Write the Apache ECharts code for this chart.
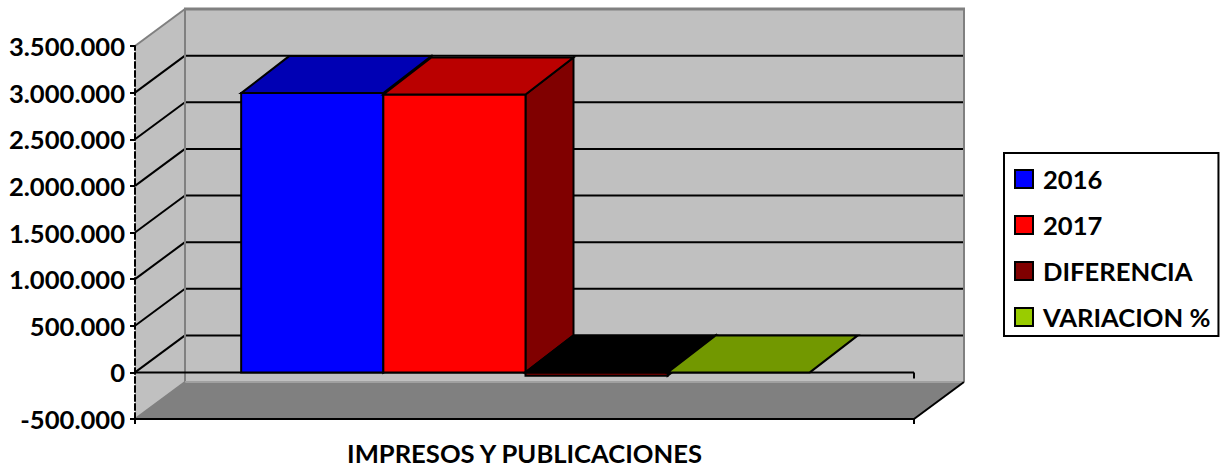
<!DOCTYPE html>
<html>
<head>
<meta charset="utf-8">
<title>Impresos y publicaciones</title>
<style>
  html, body { margin: 0; padding: 0; background: #fff; }
  #chart { width: 1224px; height: 468px; }
</style>
<script src="https://cdn.jsdelivr.net/npm/echarts@6/dist/echarts.min.js"></script>
</head>
<body>
<div id="chart"></div>
<script>
var categories = ['IMPRESOS Y PUBLICACIONES'];
var seriesNames = ['2016', '2017', 'DIFERENCIA', 'VARIACION %'];
var values2016 = [2995000];
var values2017 = [2980000];
var valuesDiferencia = [-35000];
var valuesVariacion = [0];
var yTicks = [-500000, 0, 500000, 1000000, 1500000, 2000000, 2500000, 3000000, 3500000];

(function () {
  var depthX = 50;
  var depthY = -37;
  var barDepthX = 48;
  var barDepthY = -37;
  var barRatio = 0.1825;
  var barOffset = 1;
  var font = 'Lato';
  var fontSize = 25.6;

  var faces = [
    { front: '#0000ff', top: '#0000b4', side: '#000080' },
    { front: '#ff0000', top: '#ba0000', side: '#800000' },
    { front: '#800000', top: '#000000', side: '#400000' },
    { front: '#99cc00', top: '#729800', side: '#4d6600' }
  ];
  var allValues = [values2016, values2017, valuesDiferencia, valuesVariacion];

  function poly(points, fill, stroke, width) {
    return {
      type: 'polygon',
      shape: { points: points },
      style: { fill: fill, stroke: stroke || null, lineWidth: width || 0, lineJoin: 'miter' }
    };
  }

  function line(x1, y1, x2, y2, color, width) {
    return {
      type: 'line',
      shape: { x1: x1, y1: y1, x2: x2, y2: y2 },
      style: { stroke: color, lineWidth: width }
    };
  }

  function renderWalls(params, api) {
    var band = api.size([1, 0])[0];
    var center = api.coord([0, 0])[0];
    var left = center - band / 2;
    var right = center + band / 2;
    var top = api.coord([0, yTicks[yTicks.length - 1]])[1];
    var bottom = api.coord([0, yTicks[0]])[1];
    var zero = api.coord([0, 0])[1];
    var backLeft = left + depthX;
    var backRight = right + depthX;
    var wallGray = '#c0c0c0';
    var edgeGray = '#808080';
    var children = [
      poly([[backLeft, top + depthY], [backRight, top + depthY], [backRight, bottom + depthY], [backLeft, bottom + depthY]], wallGray),
      poly([[left, top], [backLeft, top + depthY], [backLeft, bottom + depthY], [left, bottom]], wallGray),
      poly([[left, bottom], [backLeft, bottom + depthY], [backRight, bottom + depthY], [right, bottom]], edgeGray)
    ];
    yTicks.slice(1, -1).forEach(function (v) {
      var y = api.coord([0, v])[1];
      children.push(line(left, y, backLeft, y + depthY, '#000', 2));
      children.push(line(backLeft, y + depthY, backRight, y + depthY, '#000', 2));
    });
    children.push(line(left, top, backLeft, top + depthY, edgeGray, 2));
    children.push(line(backLeft - 1, top + depthY, backRight + 1, top + depthY, edgeGray, 3));
    children.push(line(backLeft, top + depthY, backLeft, bottom + depthY, edgeGray, 2));
    children.push(line(backRight, top + depthY, backRight, bottom + depthY, edgeGray, 2));
    children.push(line(backLeft, bottom + depthY, backRight, bottom + depthY, '#a0a0a0', 2));
    children.push(line(left, bottom, backLeft, bottom + depthY, edgeGray, 2));
    children.push(line(right, bottom, backRight, bottom + depthY, '#000', 2));
    children.push(line(left, zero, right, zero, '#000', 2));
    children.push(line(right, zero, right, zero + 6, '#000', 2));
    return { type: 'group', children: children };
  }

  function makeBarRenderer(index) {
    return function (params, api) {
      var band = api.size([1, 0])[0];
      var width = band * barRatio;
      var center = api.coord([0, 0])[0];
      var x0 = center - width * 2 + width * index + barOffset;
      var x1 = x0 + width;
      var y0 = api.coord([0, 0])[1];
      var yv = api.coord([0, api.value(1)])[1];
      var yTop = Math.min(y0, yv);
      var yBottom = Math.max(y0, yv);
      var f = faces[index];
      var children = [];
      if (yBottom - yTop > 0.5) {
        children.push(poly([[x1, yTop], [x1 + barDepthX, yTop + barDepthY], [x1 + barDepthX, yBottom + barDepthY], [x1, yBottom]], f.side, '#000', 2));
        children.push(poly([[x0, yTop], [x1, yTop], [x1, yBottom], [x0, yBottom]], f.front, '#000', 2));
      }
      children.push(poly([[x0, yTop], [x0 + barDepthX, yTop + barDepthY], [x1 + barDepthX, yTop + barDepthY], [x1, yTop]], f.top, '#000', 2));
      return { type: 'group', children: children };
    };
  }

  var series = [{
    name: 'paredes',
    type: 'custom',
    z: 1,
    silent: true,
    data: [[0, 0]],
    encode: { x: 0, y: 1 },
    renderItem: renderWalls
  }];
  seriesNames.forEach(function (name, i) {
    series.push({
      name: name,
      type: 'custom',
      z: 2 + i,
      itemStyle: { color: faces[i].front },
      data: allValues[i].map(function (v, k) { return [k, v]; }),
      encode: { x: 0, y: 1 },
      renderItem: makeBarRenderer(i)
    });
  });

  var chart = echarts.init(document.getElementById('chart'), null, { renderer: 'svg' });
  chart.setOption({
    animation: false,
    backgroundColor: '#fff',
    textStyle: { fontFamily: font },
    grid: { left: 135, right: 310, top: 46, bottom: 49, containLabel: false },
    legend: {
      data: seriesNames,
      orient: 'vertical',
      left: 1004,
      top: 153,
      padding: [13, 8, 6, 10],
      itemWidth: 18,
      itemHeight: 18,
      itemGap: 20,
      icon: 'rect',
      borderColor: '#000',
      borderWidth: 2,
      backgroundColor: '#fff',
      selectedMode: false,
      itemStyle: { borderColor: '#000', borderWidth: 2 },
      textStyle: {
        fontFamily: font,
        fontWeight: 'bold',
        fontSize: fontSize,
        color: '#000',
        padding: [0, 0, 0, 5]
      }
    },
    xAxis: {
      type: 'category',
      data: categories,
      z: 10,
      axisLine: { onZero: false, lineStyle: { color: '#000', width: 2 } },
      axisTick: { show: true, length: 5, lineStyle: { color: '#000', width: 2 } },
      axisLabel: {
        margin: 21,
        fontFamily: font,
        fontWeight: 'bold',
        fontSize: fontSize,
        color: '#000'
      }
    },
    yAxis: {
      type: 'value',
      min: yTicks[0],
      max: yTicks[yTicks.length - 1],
      interval: yTicks[1] - yTicks[0],
      z: 10,
      splitLine: { show: false },
      axisLine: { show: true, lineStyle: { color: '#000', width: 2, type: [6, 3] } },
      axisTick: { show: true, length: 5, lineStyle: { color: '#000', width: 2 } },
      axisLabel: {
        margin: 10,
        padding: [0, 0, 2, 0],
        fontFamily: font,
        fontWeight: 'bold',
        fontSize: fontSize,
        color: '#000',
        formatter: function (v) {
          return String(v).replace(/\B(?=(\d{3})+$)/g, '.');
        }
      }
    },
    series: series
  });
})();
</script>
</body>
</html>
